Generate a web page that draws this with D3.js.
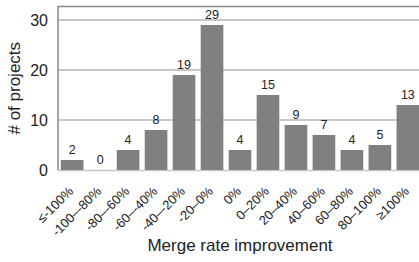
<!DOCTYPE html>
<html>
<head>
<meta charset="utf-8">
<script src="https://cdn.jsdelivr.net/npm/d3@7"></script>
<style>
  body { margin: 0; background: #fff; }
  text { font-family: "Liberation Sans", Arial, sans-serif; fill: #222; }
</style>
</head>
<body>
<svg width="419" height="262"></svg>
<script>
const categories = ['≤-100%', '-100–-80%', '-80–-60%', '-60–-40%', '-40–-20%', '-20–0%',
  '0%', '0–20%', '20–40%', '40–60%', '60–80%', '80–100%', '≥100%'];
const projects = [2, 0, 4, 8, 19, 29, 4, 15, 9, 7, 4, 5, 13];
const yTicks = [0, 10, 20, 30];

const svg = d3.select('svg');
const plotLeft = 58;
const plotRight = 422;
const plotTop = 6.5;
const plotBottom = 170;

const x = d3.scaleBand()
  .domain(categories)
  .range([plotLeft, plotRight])
  .paddingInner(0.19)
  .paddingOuter(0.1);

const y = d3.scaleLinear()
  .domain([0, 32.7])
  .range([plotBottom, plotTop]);

// grid lines
svg.append('g')
  .selectAll('line')
  .data(yTicks.slice(1))
  .join('line')
  .attr('x1', plotLeft)
  .attr('x2', 419)
  .attr('y1', (d) => y(d))
  .attr('y2', (d) => y(d))
  .style('stroke', '#c8c8c8')
  .style('stroke-width', 2);

// bottom line
svg.append('line')
  .attr('x1', plotLeft).attr('x2', 419)
  .attr('y1', plotBottom + 0.5).attr('y2', plotBottom + 0.5)
  .style('stroke', '#c8c8c8')
  .style('stroke-width', 1.5);

// bars
svg.append('g')
  .selectAll('rect')
  .data(projects)
  .join('rect')
  .attr('x', (d, i) => x(categories[i]))
  .attr('y', (d) => y(d))
  .attr('width', x.bandwidth())
  .attr('height', (d) => y(0) - y(d))
  .style('fill', '#808080');

// value labels
svg.append('g')
  .selectAll('text')
  .data(projects)
  .join('text')
  .attr('x', (d, i) => x(categories[i]) + x.bandwidth() / 2)
  .attr('y', (d) => y(d) - 6)
  .attr('text-anchor', 'middle')
  .style('font-size', '12.5px')
  .text((d) => d);

// frame (left and top)
svg.append('path')
  .attr('d', `M${plotLeft},${plotBottom}V${plotTop}H419`)
  .style('fill', 'none')
  .style('stroke', '#888')
  .style('stroke-width', 1.5);

// y axis
const yAxis = d3.axisLeft(y).tickValues(yTicks).tickSize(0).tickPadding(10);
const gy = svg.append('g')
  .attr('transform', `translate(${plotLeft},0)`)
  .call(yAxis);
gy.select('.domain').remove();
gy.selectAll('text')
  .style('font-size', '16px')
  .style('font-family', '"Liberation Sans", Arial, sans-serif')
  .style('fill', '#222');

// x tick labels
svg.append('g')
  .selectAll('text')
  .data(categories)
  .join('text')
  .attr('transform', (d) => `translate(${x(d) + x.bandwidth() / 2 + 2},${plotBottom + 22}) rotate(-45)`)
  .attr('text-anchor', 'end')
  .style('font-size', '13px')
  .text((d) => d);

// axis titles
svg.append('text')
  .attr('x', (plotLeft + plotRight) / 2)
  .attr('y', 251)
  .attr('text-anchor', 'middle')
  .style('font-size', '17px')
  .text('Merge rate improvement');

svg.append('text')
  .attr('transform', `translate(20,${(plotTop + plotBottom) / 2}) rotate(-90)`)
  .attr('text-anchor', 'middle')
  .style('font-size', '17px')
  .text('# of projects');
</script>
</body>
</html>
